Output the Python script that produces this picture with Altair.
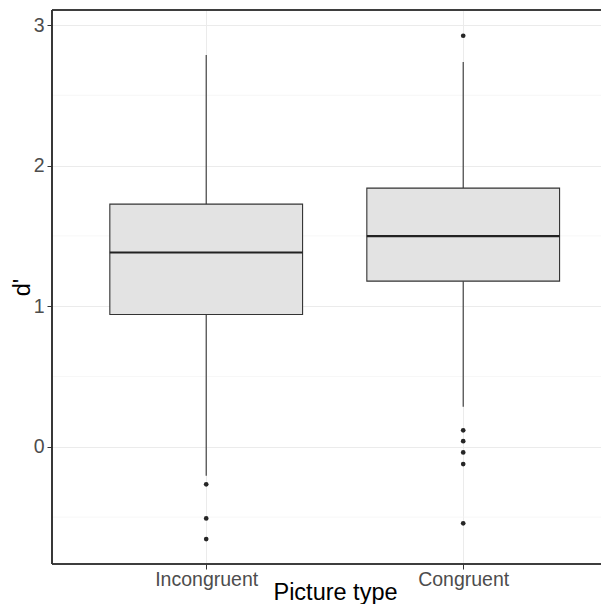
import altair as alt
import pandas as pd

# ---- data ----
categories = ["Incongruent", "Congruent"]
whisker_low = [-0.206, 0.285]
q1 = [0.941, 1.178]
median = [1.382, 1.498]
q3 = [1.726, 1.840]
whisker_high = [2.786, 2.737]

outlier_cat = ["Incongruent", "Incongruent", "Incongruent",
               "Congruent", "Congruent", "Congruent", "Congruent", "Congruent", "Congruent"]
outlier_val = [-0.267, -0.51, -0.657,
               2.924, 0.117, 0.04, -0.04, -0.123, -0.545]

y_major = [0, 1, 2, 3]
y_minor = [-0.5, 0.5, 1.5, 2.5]

BOX_HALF = 0.375
pos = {c: i + 1 for i, c in enumerate(categories)}

boxes = pd.DataFrame({
    "cat": categories,
    "pos": [pos[c] for c in categories],
    "lo": whisker_low, "q1": q1, "med": median, "q3": q3, "hi": whisker_high,
})
boxes["left"] = boxes["pos"] - BOX_HALF
boxes["right"] = boxes["pos"] + BOX_HALF

outs = pd.DataFrame({"cat": outlier_cat, "val": outlier_val})
outs["pos"] = outs["cat"].map(pos)

minor = pd.DataFrame({"v": y_minor})

label_expr = " : ".join(
    [f"datum.value == {pos[c]} ? '{c}'" for c in categories[:-1]] + [f"'{categories[-1]}'"]
)

W, H = 549, 554
X_DOMAIN = [0.4, 0.4 + W / 257.0]
Y_DOMAIN = [-0.834, 3.107]

xs = alt.Scale(domain=X_DOMAIN, nice=False, zero=False)
ys = alt.Scale(domain=Y_DOMAIN, nice=False, zero=False)

FONT = "Liberation Sans"
BORDER = "#333333"

x_axis = alt.Axis(
    values=[1, 2], labelExpr=label_expr, title="Picture type",
    grid=True, gridColor="#EBEBEB", gridWidth=1,
    ticks=True, tickSize=5, tickColor="#333333", tickWidth=1,
    domain=False, labelFont=FONT, labelFontSize=19.5, labelColor="#4D4D4D",
    labelPadding=1.5, labelBaseline="top",
    titleFont=FONT, titleFontSize=23.5, titleColor="#000000", titleFontWeight="normal",
    titleX=283, titleY=35.5, titleBaseline="alphabetic", titleAnchor="middle",
)
y_axis = alt.Axis(
    values=y_major, title="d'", format="d",
    grid=True, gridColor="#EBEBEB", gridWidth=1,
    ticks=True, tickSize=5, tickColor="#333333", tickWidth=1,
    domain=False, labelFont=FONT, labelFontSize=19.5, labelColor="#4D4D4D",
    labelPadding=3,
    titleFont=FONT, titleFontSize=23.5, titleColor="#000000", titleFontWeight="normal",
    titleX=-30, titleY=277, titleBaseline="middle", titleAngle=-90, titleAlign="center",
)

minor_grid = alt.Chart(minor).mark_rule(color="#F3F3F3", strokeWidth=0.7).encode(
    y=alt.Y("v:Q", scale=ys, axis=y_axis),
    x=alt.value(0), x2=alt.value(W + 10),
)

base = alt.Chart(boxes)

upper_whisker = base.mark_rule(color="#333333", strokeWidth=1.1).encode(
    x=alt.X("pos:Q", scale=xs, axis=x_axis),
    y=alt.Y("q3:Q", scale=ys),
    y2="hi:Q",
)
lower_whisker = base.mark_rule(color="#333333", strokeWidth=1.1).encode(
    x=alt.X("pos:Q", scale=xs),
    y=alt.Y("lo:Q", scale=ys),
    y2="q1:Q",
)
box = base.mark_rect(fill="#E3E3E3", stroke="#333333", strokeWidth=1.1).encode(
    x=alt.X("left:Q", scale=xs),
    x2="right:Q",
    y=alt.Y("q1:Q", scale=ys),
    y2="q3:Q",
)
med = base.mark_rule(color="#222222", strokeWidth=2.2).encode(
    x=alt.X("left:Q", scale=xs),
    x2="right:Q",
    y=alt.Y("med:Q", scale=ys),
)
points = alt.Chart(outs).mark_circle(color="#262626", opacity=1, size=22).encode(
    x=alt.X("pos:Q", scale=xs),
    y=alt.Y("val:Q", scale=ys),
)

# panel border (open on the right, as the reference panel runs off the edge)
border_top = alt.Chart(minor).mark_rule(color=BORDER, strokeWidth=1.2).encode(
    x=alt.value(0), x2=alt.value(W + 10), y=alt.value(0))
border_bottom = alt.Chart(minor).mark_rule(color=BORDER, strokeWidth=1.2).encode(
    x=alt.value(0), x2=alt.value(W + 10), y=alt.value(H))
border_left = alt.Chart(minor).mark_rule(color=BORDER, strokeWidth=1.2).encode(
    x=alt.value(0), y=alt.value(0), y2=alt.value(H))

chart = alt.layer(
    minor_grid, upper_whisker, lower_whisker, box, med, points,
    border_top, border_bottom, border_left,
).properties(
    width=W, height=H,
    autosize=alt.AutoSizeParams(type="none"),
    padding={"left": 44, "top": 2, "right": 0, "bottom": 40},
    background="white",
).configure_view(
    stroke=None, fill="white",
)

chart.save("out.html", embed_options={"renderer": "svg", "actions": False})
